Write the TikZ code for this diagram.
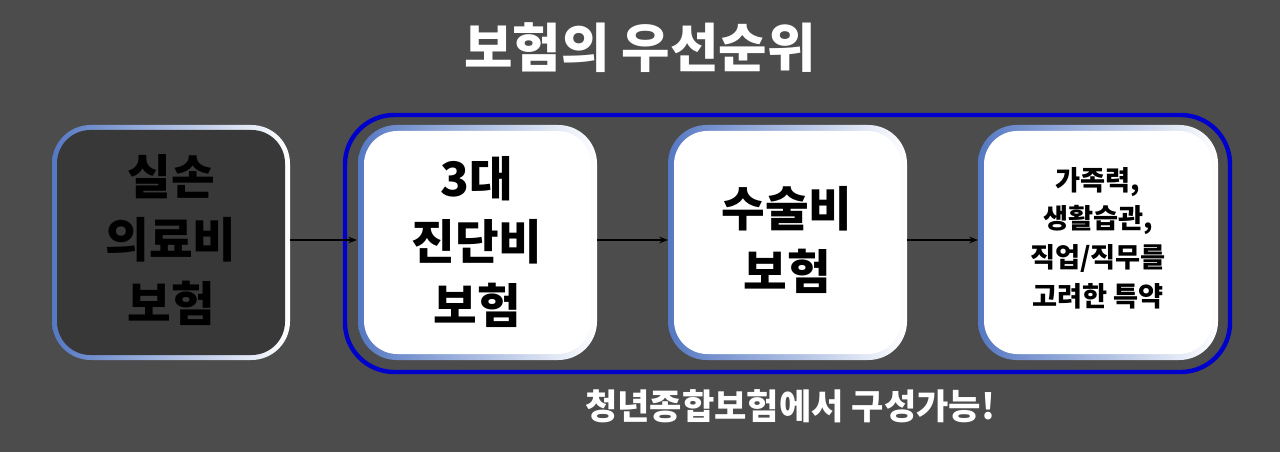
\documentclass[tikz,border=0pt]{standalone}
\usepackage{fontspec}
\newfontfamily\kr{Noto Sans CJK KR}
\usetikzlibrary{arrows.meta}
\definecolor{bb}{RGB}{85,120,195}
\tikzset{
 outerb/.style={rounded corners=22pt, left color=bb, right color=white, draw=none},
 innerdark/.style={rounded corners=19pt, fill=black!78, draw=none},
 innerwhite/.style={rounded corners=19pt, fill=white, draw=none},
 lbl/.style={text=black, font=\kr\bfseries, align=center},
 arr/.style={-{Stealth[length=5pt]}, thick, black}
}
\begin{document}
\begin{tikzpicture}[x=0.02cm,y=-0.02cm]
\fill[black!70] (0,0) rectangle (1280,452);
\useasboundingbox (0,0) rectangle (1280,452);
\node[text=white, font=\kr\bfseries\fontsize{30}{34}\selectfont] (title) at (640,48) {보험의 우선순위};
\draw[blue!80!black, line width=2.5pt, rounded corners=28pt] (345,115) rectangle (1230,372);
% box1
\shade[outerb] (52,125) rectangle (290,360);
\fill[innerdark] (57,130) rectangle (285,355);
\node[lbl, text=black, font=\kr\bfseries\fontsize{27}{36}\selectfont] (b1) at (171,240) {실손\\의료비\\보험};
\coordinate (b1e) at (290,240);
% box2
\shade[outerb] (358,125) rectangle (597,360);
\fill[innerwhite] (364,131) rectangle (591,354);
\node[lbl, font=\kr\bfseries\fontsize{27}{36}\selectfont] (b2) at (477,242) {3대\\진단비\\보험};
% box3
\shade[outerb] (668,125) rectangle (907,360);
\fill[innerwhite] (674,131) rectangle (901,354);
\node[lbl, font=\kr\bfseries\fontsize{27}{36}\selectfont] (b3) at (787,240) {수술비\\보험};
% box4
\shade[outerb] (978,125) rectangle (1218,360);
\fill[innerwhite] (984,131) rectangle (1212,354);
\node[lbl, font=\kr\bfseries\fontsize{15.5}{22}\selectfont] (b4) at (1098,238) {가족력,\\생활습관,\\직업/직무를\\고려한 특약};
\coordinate (b2w) at (357,240); \coordinate (b2e) at (597,240);
\coordinate (b3w) at (668,240); \coordinate (b3e) at (907,240);
\coordinate (b4w) at (978,240);
\draw[arr] (b1e) -- (b2w);
\draw[arr] (b2e) -- (b3w);
\draw[arr] (b3e) -- (b4w);
\node[text=white, font=\kr\bfseries\fontsize{20}{24}\selectfont] (foot) at (790,406) {청년종합보험에서 구성가능!};
\end{tikzpicture}
\end{document}
